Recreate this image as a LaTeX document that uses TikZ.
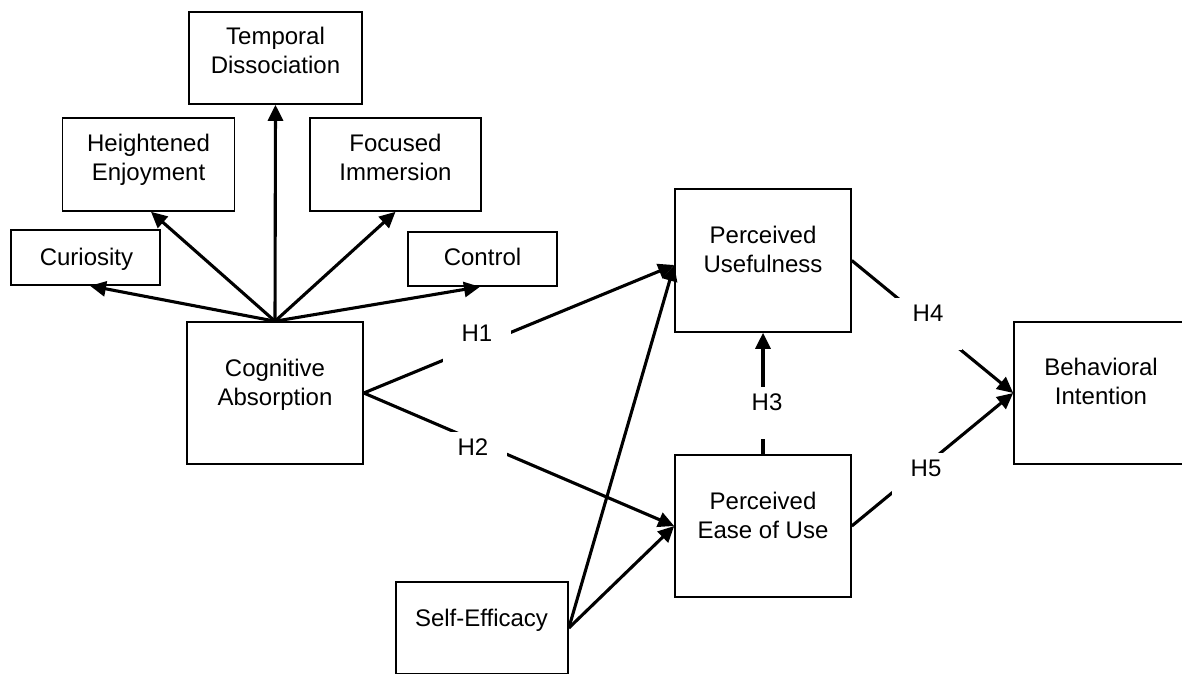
\documentclass[tikz,border=0pt]{standalone}
\usepackage{fontspec}
\setmainfont{Liberation Sans}
\usetikzlibrary{arrows.meta}
\begin{document}
\begin{tikzpicture}[x=1pt,y=-1pt,
  box/.style={draw=black, line width=1.6pt, rectangle, inner sep=0pt},
  txt/.style={align=center, inner sep=0pt, font=\fontsize{24}{29}\selectfont},
  conn/.style={line width=3.1pt, -{Triangle[length=16pt,width=15pt]}},
  hlab/.style={fill=white, inner sep=0pt, anchor=base, minimum width=68pt, text height=23.4pt, text depth=28.6pt, font=\fontsize{24}{29}\selectfont}]
\useasboundingbox (0,0) rectangle (1182,673);

% boxes
\node[box, minimum width=173pt, minimum height=92pt] (td) at (275.5,58) {};
\node[box, minimum width=172pt, minimum height=93pt] (he) at (148.5,164.5) {};
\node[box, minimum width=171pt, minimum height=93pt] (fo) at (395.5,164.5) {};
\node[box, minimum width=149pt, minimum height=55pt] (cu) at (85.5,257.5) {};
\node[box, minimum width=149pt, minimum height=54pt] (co) at (482.5,259) {};
\node[box, minimum width=176pt, minimum height=142pt] (ca) at (275,393) {};
\node[box, minimum width=176pt, minimum height=143pt] (pu) at (763,260.5) {};
\node[box, minimum width=176pt, minimum height=142pt] (pe) at (763,526) {};
\node[box, minimum width=174pt, minimum height=142pt] (bi) at (1101,393) {};
\node[box, minimum width=172pt, minimum height=92pt] (se) at (482,628) {};

% texts
\node[txt] (tdt) at (275.5,52.7) {\strut Temporal\\\strut Dissociation};
\node[txt] (het) at (148.5,159.7) {\strut Heightened\\\strut Enjoyment};
\node[txt] (fot) at (395.5,159.7) {\strut Focused\\\strut Immersion};
\node[txt] (cut) at (86.5,259.2) {\strut Curiosity};
\node[txt] (cot) at (482.5,259.2) {\strut Control};
\node[txt] (cat) at (275,384.7) {\strut Cognitive\\\strut Absorption};
\node[txt] (put) at (763,251.7) {\strut Perceived\\\strut Usefulness};
\node[txt] (pet) at (763,517.7) {\strut Perceived\\\strut Ease of Use};
\node[txt] (bit) at (1101,384.2) {\strut Behavioral\\\strut Intention};
\node[txt] (set) at (481.5,620.2) {\strut Self-Efficacy};

% connectors from cognitive absorption
\draw[conn] (ca.north) -- (td.south);
\draw[conn] (ca.north) -- ([xshift=2.5pt]he.south);
\draw[conn] (ca.north) -- (fo.south);
\draw[conn] (ca.north) -- ([xshift=4.5pt]cu.south);
\draw[conn] (ca.north) -- ([xshift=-2.5pt]co.south);

% hypotheses
\draw[conn] (ca.east) -- ([yshift=-4.5pt]pu.west);
\draw[conn] (se.east) -- ([yshift=-4.5pt]pu.west);
\draw[conn] (ca.east) -- (pe.west);
\draw[conn] (se.east) -- (pe.west);
\draw[conn] (pe.north) -- (pu.south);
\draw[conn] (pu.east) -- (bi.west);
\draw[conn] (pe.east) -- (bi.west);

% labels
\node[hlab] (h1) at (477,341.4) {H1};
\node[hlab] (h2) at (473,455.4) {H2};
\node[hlab] (h3) at (767,410.4) {H3};
\node[hlab] (h4) at (928,321.4) {H4};
\node[hlab] (h5) at (926,476.4) {H5};
\end{tikzpicture}
\end{document}
